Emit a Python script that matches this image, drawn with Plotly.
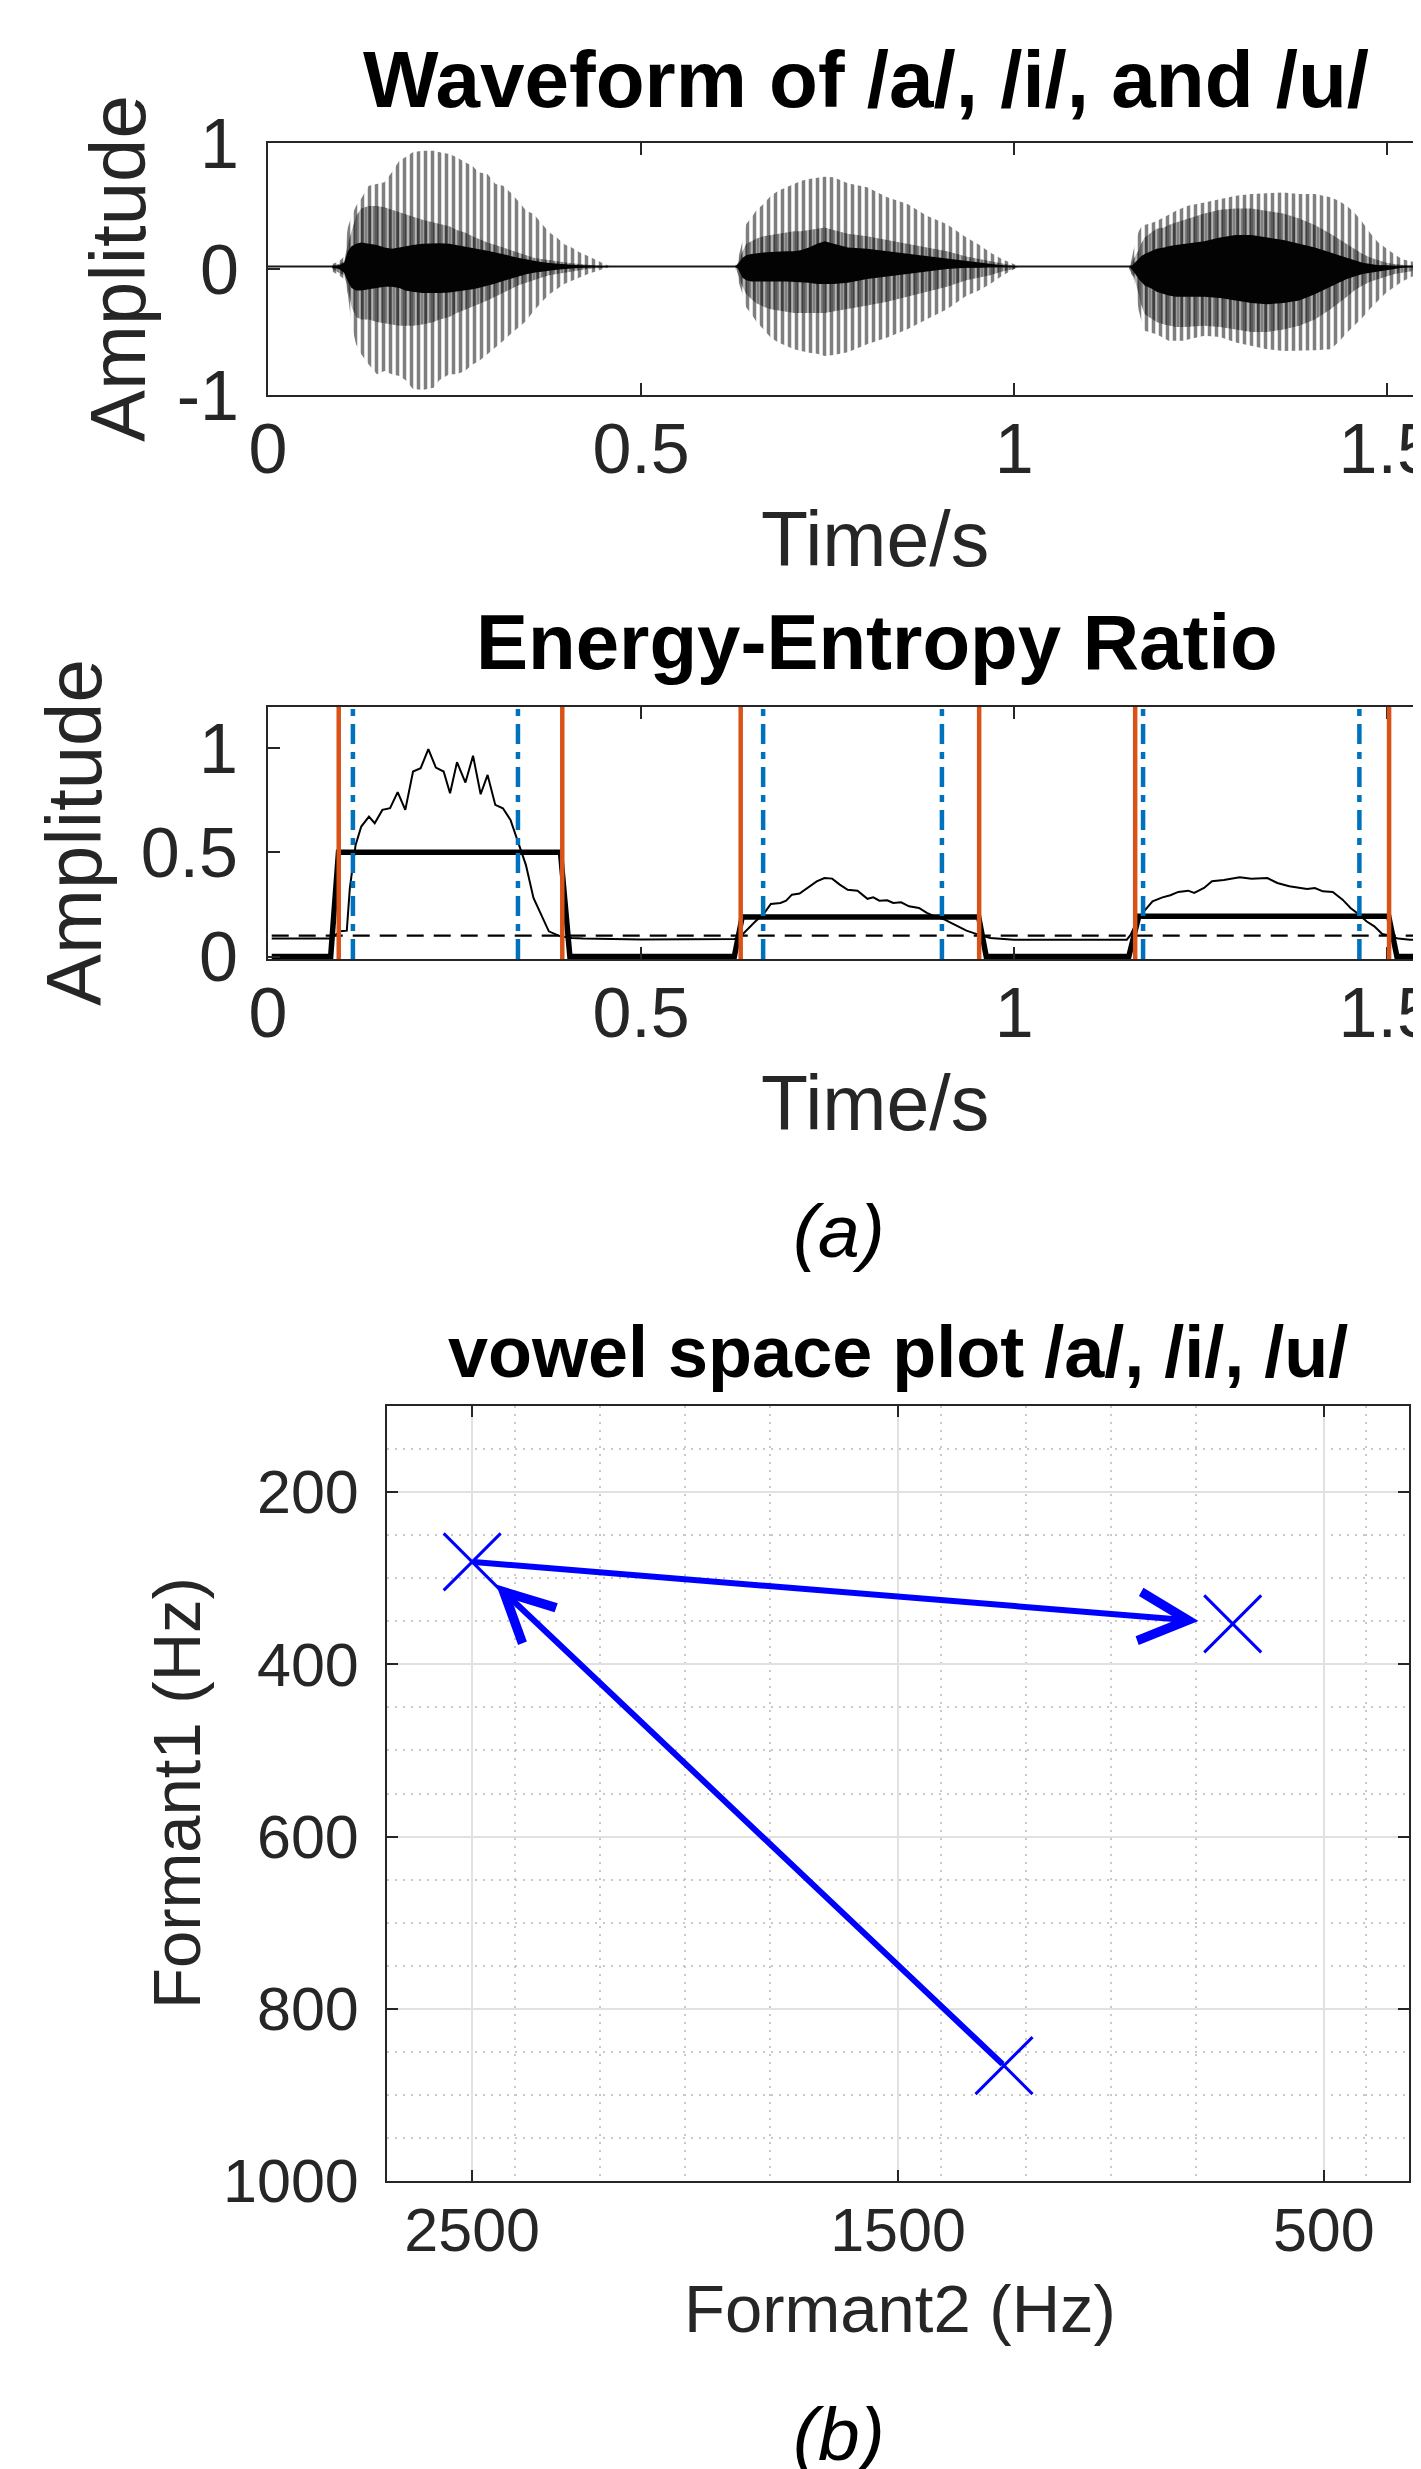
import plotly.graph_objects as go

W, H = 1421, 2469
FONT = "Liberation Sans, Arial, Helvetica, sans-serif"
AX = "#262626"

# ---------------- (a) top: waveform envelopes ----------------
# /a/ vowel
a_t = [0.086, 0.095, 0.102, 0.107, 0.112, 0.118, 0.125, 0.135, 0.146, 0.156, 0.166, 0.176, 0.184,
       0.194, 0.207, 0.222, 0.230, 0.243, 0.253, 0.264, 0.274, 0.282, 0.294, 0.305, 0.315, 0.325,
       0.335, 0.346, 0.356, 0.366, 0.377, 0.387, 0.397, 0.407, 0.418, 0.428, 0.438, 0.448, 0.456]
a_outer_hi = [0.04, 0.06, 0.10, 0.33, 0.42, 0.50, 0.56, 0.66, 0.674, 0.688, 0.767, 0.86, 0.886,
              0.926, 0.939, 0.939, 0.926, 0.913, 0.886, 0.847, 0.82, 0.767, 0.754, 0.674, 0.661, 0.608,
              0.542, 0.462, 0.436, 0.37, 0.29, 0.25, 0.197, 0.171, 0.131, 0.105, 0.078, 0.052, 0.025]
a_outer_lo = [-0.02, -0.05, -0.08, -0.2, -0.44, -0.598, -0.677, -0.757, -0.836, -0.81, -0.836, -0.85, -0.88,
              -0.95, -0.96, -0.943, -0.88, -0.836, -0.836, -0.81, -0.757, -0.735, -0.677, -0.624, -0.571, -0.518,
              -0.465, -0.412, -0.333, -0.267, -0.2, -0.16, -0.12, -0.094, -0.067, -0.041, -0.022, 0.0, 0.013]
a_mid_hi = [0.03, 0.04, 0.06, 0.2, 0.3, 0.42, 0.48, 0.5, 0.5, 0.49, 0.47, 0.45, 0.43,
            0.41, 0.39, 0.37, 0.36, 0.34, 0.31, 0.29, 0.26, 0.24, 0.21, 0.19, 0.17, 0.15,
            0.13, 0.11, 0.09, 0.08, 0.07, 0.06, 0.05, 0.045, 0.04, 0.035, 0.03, 0.025, 0.02]
a_mid_lo = [0.0, -0.03, -0.05, -0.15, -0.3, -0.38, -0.4, -0.4, -0.42, -0.43, -0.44, -0.45, -0.45,
            -0.45, -0.44, -0.42, -0.4, -0.38, -0.35, -0.32, -0.3, -0.28, -0.25, -0.22, -0.19, -0.16,
            -0.13, -0.11, -0.09, -0.07, -0.05, -0.04, -0.03, -0.02, -0.01, 0.0, 0.005, 0.01, 0.013]
a_core_hi = [0.02, 0.03, 0.05, 0.14, 0.18, 0.2, 0.21, 0.2, 0.19, 0.17, 0.16, 0.17, 0.18,
             0.19, 0.2, 0.205, 0.205, 0.2, 0.19, 0.18, 0.17, 0.16, 0.145, 0.13, 0.115, 0.1,
             0.09, 0.078, 0.065, 0.055, 0.048, 0.042, 0.038, 0.034, 0.03, 0.027, 0.024, 0.022, 0.02]
a_core_lo = [0.01, 0.0, -0.03, -0.1, -0.15, -0.17, -0.17, -0.16, -0.15, -0.14, -0.14, -0.15, -0.17,
             -0.18, -0.19, -0.19, -0.19, -0.187, -0.18, -0.17, -0.16, -0.15, -0.134, -0.115, -0.095, -0.075,
             -0.058, -0.041, -0.03, -0.02, -0.012, -0.006, 0.0, 0.005, 0.01, 0.012, 0.015, 0.018, 0.02]

# /i/ vowel
i_t = [0.626, 0.630, 0.636, 0.641, 0.648, 0.654, 0.664, 0.674, 0.684, 0.695, 0.705, 0.715, 0.725, 0.736,
       0.746, 0.758, 0.777, 0.803, 0.830, 0.857, 0.883, 0.910, 0.936, 0.952, 0.968, 0.984, 1.000, 1.005]
i_outer_hi = [0.03, 0.08, 0.224, 0.357, 0.409, 0.462, 0.515, 0.582, 0.622, 0.648, 0.674, 0.701, 0.714, 0.725,
              0.733, 0.728, 0.68, 0.648, 0.569, 0.516, 0.423, 0.356, 0.25, 0.197, 0.131, 0.078, 0.038, 0.025]
i_outer_lo = [0.01, -0.09, -0.2, -0.306, -0.36, -0.412, -0.478, -0.545, -0.584, -0.611, -0.637, -0.651, -0.665, -0.672,
              -0.69, -0.683, -0.66, -0.597, -0.544, -0.478, -0.398, -0.319, -0.213, -0.173, -0.12, -0.054, 0.0, 0.015]
i_mid_hi = [0.02, 0.05, 0.14, 0.2, 0.22, 0.24, 0.26, 0.27, 0.28, 0.29, 0.3, 0.3, 0.31, 0.32,
            0.33, 0.31, 0.28, 0.26, 0.23, 0.2, 0.17, 0.14, 0.1, 0.08, 0.06, 0.04, 0.025, 0.02]
i_mid_lo = [0.02, -0.04, -0.14, -0.2, -0.24, -0.27, -0.3, -0.32, -0.33, -0.34, -0.35, -0.35, -0.35, -0.35,
            -0.35, -0.34, -0.32, -0.29, -0.26, -0.22, -0.18, -0.14, -0.09, -0.07, -0.05, -0.02, 0.0, 0.015]
i_core_hi = [0.02, 0.04, 0.09, 0.11, 0.12, 0.125, 0.13, 0.135, 0.14, 0.14, 0.14, 0.15, 0.17, 0.2,
             0.22, 0.2, 0.17, 0.16, 0.14, 0.12, 0.1, 0.08, 0.06, 0.05, 0.04, 0.03, 0.02, 0.02]
i_core_lo = [0.02, 0.0, -0.07, -0.09, -0.1, -0.1, -0.1, -0.1, -0.1, -0.1, -0.1, -0.105, -0.11, -0.12,
             -0.12, -0.12, -0.11, -0.08, -0.06, -0.04, -0.02, 0.0, 0.01, 0.01, 0.015, 0.02, 0.02, 0.02]

# /u/ vowel
u_t = [1.154, 1.157, 1.160, 1.167, 1.170, 1.175, 1.186, 1.191, 1.201, 1.207, 1.217, 1.228, 1.233, 1.255,
       1.276, 1.297, 1.318, 1.339, 1.361, 1.382, 1.403, 1.424, 1.435, 1.446, 1.456, 1.467, 1.478, 1.488,
       1.499, 1.510, 1.520, 1.531, 1.541, 1.552, 1.556]
u_outer_hi = [0.02, 0.065, 0.15, 0.3, 0.33, 0.35, 0.369, 0.38, 0.41, 0.43, 0.462, 0.49, 0.502, 0.528,
              0.555, 0.581, 0.595, 0.6, 0.608, 0.595, 0.595, 0.57, 0.542, 0.5, 0.449, 0.37, 0.28, 0.211,
              0.16, 0.115, 0.078, 0.06, 0.048, 0.038, 0.035]
u_outer_lo = [0.0, -0.04, -0.066, -0.33, -0.4, -0.49, -0.51, -0.517, -0.55, -0.57, -0.57, -0.57, -0.56, -0.53,
              -0.54, -0.584, -0.61, -0.637, -0.65, -0.65, -0.645, -0.637, -0.58, -0.505, -0.45, -0.385, -0.31, -0.25,
              -0.187, -0.14, -0.1, -0.066, -0.04, -0.014, -0.01]
u_mid_hi = [0.02, 0.04, 0.08, 0.15, 0.2, 0.25, 0.3, 0.32, 0.33, 0.35, 0.37, 0.39, 0.4, 0.44,
            0.47, 0.48, 0.48, 0.46, 0.44, 0.4, 0.35, 0.28, 0.24, 0.2, 0.16, 0.12, 0.09, 0.07,
            0.05, 0.04, 0.03, 0.025, 0.02, 0.02, 0.02]
u_mid_lo = [0.0, -0.02, -0.05, -0.2, -0.28, -0.36, -0.4, -0.42, -0.44, -0.45, -0.46, -0.46, -0.46, -0.45,
            -0.46, -0.48, -0.5, -0.5, -0.48, -0.45, -0.4, -0.32, -0.27, -0.22, -0.17, -0.13, -0.1, -0.08,
            -0.06, -0.04, -0.03, -0.02, -0.01, 0.0, 0.0]
u_core_hi = [0.02, 0.02, 0.04, 0.08, 0.1, 0.12, 0.15, 0.16, 0.17, 0.18, 0.19, 0.2, 0.2, 0.22,
             0.25, 0.27, 0.27, 0.25, 0.23, 0.2, 0.17, 0.13, 0.11, 0.09, 0.07, 0.05, 0.04, 0.03,
             0.03, 0.02, 0.02, 0.02, 0.02, 0.02, 0.02]
u_core_lo = [0.02, 0.0, -0.02, -0.08, -0.1, -0.13, -0.16, -0.18, -0.2, -0.21, -0.22, -0.22, -0.22, -0.22,
             -0.23, -0.25, -0.27, -0.28, -0.27, -0.25, -0.2, -0.14, -0.11, -0.08, -0.06, -0.04, -0.03, -0.02,
             -0.01, 0.0, 0.01, 0.015, 0.02, 0.02, 0.02]

wave_base_t = [0.0, 1.556]
wave_base_v = [0.02, 0.02]

# ---------------- (a) bottom: energy-entropy ratio ----------------
eer_t = [0.005, 0.084, 0.0969, 0.1056, 0.1097, 0.1174, 0.125, 0.1353, 0.143, 0.1533, 0.1636, 0.1738, 0.184,
         0.1944, 0.2046, 0.2149, 0.225, 0.2354, 0.244, 0.2533, 0.2646, 0.2748, 0.285, 0.2943, 0.3046, 0.3148,
         0.325, 0.3353, 0.3456, 0.3558, 0.366, 0.3764, 0.3918, 0.4071, 0.4225, 0.50, 0.6253, 0.6355, 0.6534,
         0.6637, 0.6739, 0.6868, 0.6944, 0.7022, 0.7124, 0.7227, 0.7354, 0.7458, 0.7561, 0.7663, 0.7769, 0.7901,
         0.8034, 0.8113, 0.8193, 0.8299, 0.8379, 0.8485, 0.8591, 0.8724, 0.8830, 0.8936, 0.9069, 0.9201, 0.9361,
         0.9520, 0.9680, 0.9997, 1.1510, 1.1563, 1.1643, 1.1722, 1.1855, 1.1988, 1.2094, 1.2200, 1.2333, 1.2413,
         1.2545, 1.2651, 1.2810, 1.3023, 1.3182, 1.3394, 1.3527, 1.3687, 1.3819, 1.3925, 1.4031, 1.4137, 1.4270,
         1.4402, 1.4508, 1.4614, 1.4721, 1.4827, 1.4933, 1.5013, 1.5146, 1.5305, 1.556]
eer_v = [0.086, 0.086, 0.121, 0.124, 0.329, 0.536, 0.624, 0.672, 0.640, 0.704, 0.712, 0.789, 0.704,
         0.888, 0.904, 0.996, 0.907, 0.888, 0.784, 0.933, 0.835, 0.964, 0.779, 0.872, 0.728, 0.712,
         0.656, 0.553, 0.440, 0.281, 0.201, 0.121, 0.097, 0.089, 0.086, 0.082, 0.084, 0.105, 0.169,
         0.201, 0.252, 0.257, 0.268, 0.297, 0.302, 0.329, 0.361, 0.377, 0.374, 0.345, 0.320, 0.316,
         0.277, 0.284, 0.268, 0.270, 0.257, 0.260, 0.241, 0.233, 0.209, 0.193, 0.177, 0.153, 0.124,
         0.105, 0.089, 0.081, 0.081, 0.105, 0.169, 0.209, 0.265, 0.284, 0.294, 0.310, 0.316, 0.305,
         0.329, 0.361, 0.367, 0.381, 0.373, 0.377, 0.353, 0.337, 0.329, 0.324, 0.329, 0.313, 0.310,
         0.273, 0.233, 0.204, 0.169, 0.145, 0.108, 0.102, 0.086, 0.081, 0.081]
seg_t = [0.005, 0.084, 0.0945, 0.392, 0.4046, 0.625, 0.6355, 0.9525, 0.9626, 1.1537, 1.167, 1.502, 1.513, 1.556]
seg_v = [0, 0, 0.5, 0.5, 0, 0, 0.19, 0.19, 0, 0, 0.193, 0.193, 0, 0]
thr_t = [0.005, 1.556]
thr_v = [0.1, 0.1]
seg_start = [0.0948, 0.6335, 1.1622]     # orange solid
seg_end = [0.3944, 0.9531, 1.5025]
vowel_start = [0.1138, 0.6636, 1.1728]   # blue dash-dot
vowel_end = [0.335, 0.9032, 1.4627]

# ---------------- (b) vowel space ----------------
vowels = ["/a/", "/i/", "/u/"]
F2 = [1251, 2500, 714]
F1 = [866, 281, 353]
arrow_pairs = [(0, 1), (1, 2)]
quiver_scale = 0.955

x_major = [2500, 1500, 500]
x_minor = [2400, 2200, 2000, 1800, 1400, 1200, 1000, 800, 400]
y_major = [200, 400, 600, 800, 1000]
y_minor = [150, 250, 300, 350, 450, 500, 550, 650, 700, 750, 850, 900, 950]

# ---------------- figure ----------------
fig = go.Figure()


def env(t, hi, lo, **kw):
    return go.Scatter(x=list(t) + list(t)[::-1], y=list(hi) + list(lo)[::-1], mode="lines",
                      line=dict(width=0), fill="toself", hoverinfo="skip", showlegend=False,
                      xaxis="x", yaxis="y", **kw)


fig.add_trace(go.Scatter(x=wave_base_t, y=wave_base_v, mode="lines", line=dict(color="#1a1a1a", width=2),
                         xaxis="x", yaxis="y", showlegend=False, hoverinfo="skip"))
for t, hi, lo in [(a_t, a_outer_hi, a_outer_lo), (i_t, i_outer_hi, i_outer_lo), (u_t, u_outer_hi, u_outer_lo)]:
    fig.add_trace(env(t, hi, lo, fillcolor="rgba(0,0,0,0)",
                      fillpattern=dict(shape="|", size=7, solidity=0.5, fgcolor="#000000",
                                       bgcolor="rgba(0,0,0,0)")))
for t, hi, lo in [(a_t, a_mid_hi, a_mid_lo), (i_t, i_mid_hi, i_mid_lo), (u_t, u_mid_hi, u_mid_lo)]:
    fig.add_trace(env(t, hi, lo, fillcolor="rgba(0,0,0,0)",
                      fillpattern=dict(shape="|", size=4, solidity=0.8, fgcolor="#000000",
                                       bgcolor="rgba(0,0,0,0)")))
for t, hi, lo in [(a_t, a_core_hi, a_core_lo), (i_t, i_core_hi, i_core_lo), (u_t, u_core_hi, u_core_lo)]:
    fig.add_trace(env(t, hi, lo, fillcolor="#030303"))

# EER traces
fig.add_trace(go.Scatter(x=thr_t, y=thr_v, mode="lines", line=dict(color="black", width=2.2, dash="17px,10px"),
                         xaxis="x2", yaxis="y2", showlegend=False))
fig.add_trace(go.Scatter(x=eer_t, y=eer_v, mode="lines", line=dict(color="black", width=2),
                         xaxis="x2", yaxis="y2", showlegend=False))
fig.add_trace(go.Scatter(x=seg_t, y=seg_v, mode="lines", line=dict(color="black", width=5.5),
                         xaxis="x2", yaxis="y2", showlegend=False))

shapes = []
for v in seg_start + seg_end:
    shapes.append(dict(type="line", xref="x2", yref="y2 domain", x0=v, x1=v, y0=0, y1=1,
                       line=dict(color="#D95319", width=4.5), layer="above"))
for v in vowel_start + vowel_end:
    shapes.append(dict(type="line", xref="x2", yref="y2 domain", x0=v, x1=v, y0=0, y1=1,
                       line=dict(color="#0072BD", width=4.5, dash="20px,8px,7px,8px"), layer="above"))

# vowel space markers
fig.add_trace(go.Scatter(x=F2, y=F1, mode="markers", text=vowels, xaxis="x3", yaxis="y3", showlegend=False,
                         marker=dict(symbol="x-thin", size=57, color="#0000FF",
                                     line=dict(width=3, color="#0000FF"))))

annotations = []
for s, e in arrow_pairs:
    tx = F2[s] + quiver_scale * (F2[e] - F2[s])
    ty = F1[s] + quiver_scale * (F1[e] - F1[s])
    annotations.append(dict(x=tx, y=ty, ax=F2[s], ay=F1[s], xref="x3", yref="y3", axref="x3", ayref="y3",
                            showarrow=True, arrowhead=5, arrowsize=1.6, arrowwidth=6, arrowcolor="#0000FF",
                            standoff=0, startstandoff=0, text=""))


def label(text, px, py, size, bold=False, italic=False, angle=0, color=AX):
    t = f"<b>{text}</b>" if bold else (f"<i>{text}</i>" if italic else text)
    annotations.append(dict(text=t, x=px / W, y=1 - py / H, xref="paper", yref="paper", showarrow=False,
                            xanchor="center", yanchor="middle", textangle=angle,
                            font=dict(family=FONT, size=size, color=color)))


label("Waveform of /a/, /i/, and /u/", 858, 71, 80, bold=True, color="black")
label("Amplitude", 110, 261, 78, angle=-90)
label("Time/s", 867, 531, 77)
label("Energy-Entropy Ratio", 869, 634, 78, bold=True, color="black")
label("Amplitude", 66, 825, 78, angle=-90)
label("Time/s", 867, 1095, 77)
label("(a)", 831, 1223, 75, italic=True, color="black")
label("vowel space plot /a/, /i/, /u/", 890, 1344, 72, bold=True, color="black")
label("Formant1 (Hz)", 168, 1785, 67, angle=-90)
label("Formant2 (Hz)", 892, 2300, 67)
label("(b)", 831, 2426, 75, italic=True, color="black")

common = dict(showline=True, linecolor=AX, linewidth=2, ticks="inside", tickcolor=AX, tickwidth=2,
              zeroline=False, showgrid=False, ticklabeloverflow="allow", automargin=False)

fig.update_layout(
    width=W, height=H, margin=dict(l=0, r=0, t=0, b=0, autoexpand=False), paper_bgcolor="white",
    plot_bgcolor="white",
    font=dict(family=FONT, color=AX), showlegend=False, shapes=shapes, annotations=annotations,
    xaxis=dict(domain=[260 / W, 1.0], range=[0, 1.556], anchor="y", tickvals=[0, 0.5, 1, 1.5],
               ticktext=["0", "0.5", "1", "1.5"], ticklen=12, mirror="ticks", ticklabelstandoff=-8,
               tickfont=dict(size=70, color=AX), **common),
    yaxis=dict(domain=[1 - 387 / H, 1 - 135 / H], range=[-1, 1], anchor="x", tickvals=[-1, 0, 1],
               ticktext=["-1", "0", "1"], ticklen=12, mirror=False, ticklabelstandoff=13,
               tickfont=dict(size=70, color=AX), **common),
    xaxis2=dict(domain=[260 / W, 1.0], range=[0, 1.556], anchor="y2", tickvals=[0, 0.5, 1, 1.5],
                ticktext=["0", "0.5", "1", "1.5"], ticklen=12, mirror="ticks", ticklabelstandoff=-8,
                tickfont=dict(size=70, color=AX), **common),
    yaxis2=dict(domain=[1 - 951 / H, 1 - 699 / H], range=[-0.012, 1.198], anchor="x2", tickvals=[0, 0.5, 1],
                ticktext=["0", "0.5", "1"], ticklen=12, mirror=False, ticklabelstandoff=14,
                tickfont=dict(size=70, color=AX), **common),
    xaxis3=dict(domain=[379 / W, 1401 / W], range=[2700, 300], anchor="y3", tickvals=x_major,
                ticktext=[str(v) for v in x_major], ticklen=11, mirror="ticks", ticklabelstandoff=-5,
                tickfont=dict(size=61, color=AX),
                showline=True, linecolor=AX, linewidth=2, ticks="inside", tickcolor=AX, tickwidth=2,
                zeroline=False, showgrid=True, gridcolor="#e1e1e1", gridwidth=1.5, ticklabeloverflow="allow",
                automargin=False,
                minor=dict(tickvals=x_minor, showgrid=True, gridcolor="#c9c9c9", griddash="2px,6px",
                           gridwidth=1.5, ticks="")),
    yaxis3=dict(domain=[1 - 2173 / H, 1 - 1398 / H], range=[1000, 100], anchor="x3", tickvals=y_major,
                ticktext=[str(v) for v in y_major], ticklen=11, mirror="ticks", ticklabelstandoff=14,
                tickfont=dict(size=61, color=AX),
                showline=True, linecolor=AX, linewidth=2, ticks="inside", tickcolor=AX, tickwidth=2,
                zeroline=False, showgrid=True, gridcolor="#e1e1e1", gridwidth=1.5, ticklabeloverflow="allow",
                automargin=False,
                minor=dict(tickvals=y_minor, showgrid=True, gridcolor="#c9c9c9", griddash="2px,6px",
                           gridwidth=1.5, ticks="")),
)

fig.write_html("out.html")
